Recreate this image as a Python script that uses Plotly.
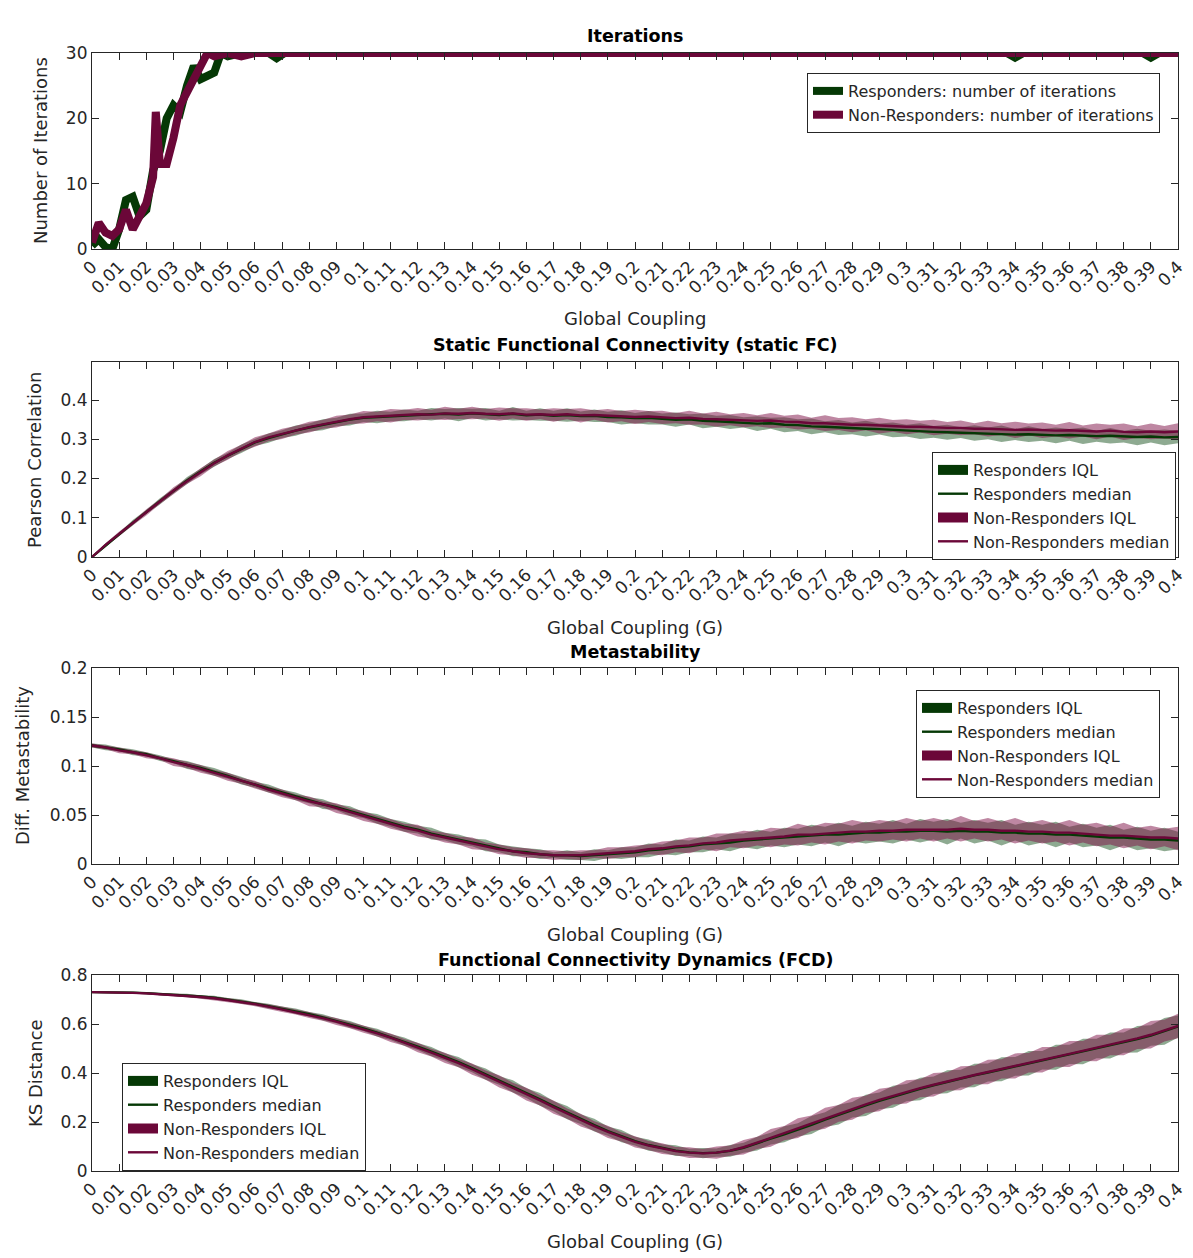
import numpy as np
import plotly.graph_objects as go

# ---------------- DATA ----------------
G = [round(i * 0.005, 3) for i in range(81)]

# Panel 1: number of iterations
iter_g_R = [0, 0.0025, 0.005, 0.0075, 0.01, 0.0125, 0.015, 0.0175, 0.02, 0.0225, 0.025, 0.0275, 0.03, 0.0325,
            0.035, 0.0375, 0.04, 0.0425, 0.045, 0.0475, 0.05, 0.055, 0.06, 0.065, 0.068, 0.071, 0.1, 0.2, 0.3,
            0.337, 0.34, 0.343, 0.387, 0.39, 0.393, 0.4]
iter_R = [0.5, 1.5, 0.3, 0, 3, 7.5, 8, 5, 6, 12, 15, 20, 22, 21, 25, 28, 26, 26.5, 27, 30, 29.5, 30, 30, 30,
          29.2, 30, 30, 30, 30, 30, 29.3, 30, 30, 29.3, 30, 30]
iter_g_NR = [0, 0.0025, 0.005, 0.0075, 0.01, 0.0125, 0.015, 0.0175, 0.02, 0.0225, 0.0235, 0.025, 0.0275, 0.03,
             0.0325, 0.035, 0.0375, 0.04, 0.0425, 0.045, 0.05, 0.055, 0.06, 0.4]
iter_NR = [1, 4, 2.5, 2, 3, 6, 3, 5, 7, 11, 21, 13, 13, 17, 22, 24, 26, 28, 30, 29.5, 30, 29.5, 30, 30]

# Panel 2: static FC (Pearson correlation), medians and IQR half widths
fc_med_R = [0.000, 0.030, 0.058, 0.087, 0.115, 0.142, 0.168, 0.195, 0.218, 0.240, 0.258, 0.276, 0.292, 0.303,
            0.313, 0.322, 0.330, 0.337, 0.344, 0.350, 0.355, 0.357, 0.358, 0.361, 0.362, 0.364, 0.365, 0.363,
            0.366, 0.364, 0.362, 0.365, 0.361, 0.363, 0.360, 0.362, 0.359, 0.360, 0.357, 0.356, 0.354, 0.355,
            0.352, 0.350, 0.351, 0.347, 0.346, 0.344, 0.343, 0.340, 0.341, 0.337, 0.336, 0.333, 0.332, 0.330,
            0.328, 0.327, 0.326, 0.324, 0.322, 0.321, 0.319, 0.318, 0.317, 0.316, 0.315, 0.314, 0.312, 0.313,
            0.311, 0.310, 0.311, 0.309, 0.308, 0.309, 0.307, 0.306, 0.307, 0.305, 0.306]
fc_med_NR = [0.000, 0.031, 0.059, 0.086, 0.114, 0.141, 0.169, 0.193, 0.216, 0.239, 0.259, 0.277, 0.293, 0.305,
             0.314, 0.323, 0.331, 0.338, 0.345, 0.351, 0.356, 0.358, 0.360, 0.362, 0.364, 0.363, 0.366, 0.365,
             0.367, 0.365, 0.364, 0.366, 0.363, 0.364, 0.362, 0.364, 0.361, 0.362, 0.360, 0.359, 0.357, 0.358,
             0.356, 0.354, 0.355, 0.352, 0.351, 0.350, 0.349, 0.347, 0.348, 0.345, 0.344, 0.341, 0.341, 0.339,
             0.337, 0.337, 0.335, 0.334, 0.332, 0.332, 0.330, 0.329, 0.329, 0.327, 0.327, 0.326, 0.324, 0.325,
             0.323, 0.322, 0.323, 0.321, 0.320, 0.322, 0.319, 0.318, 0.320, 0.318, 0.320]
fc_iqr_R = [0.002, 0.005, 0.004, 0.007, 0.005, 0.008, 0.006, 0.009, 0.007, 0.010, 0.008, 0.011, 0.009, 0.012,
            0.010, 0.013, 0.010, 0.014, 0.011, 0.015, 0.011, 0.016, 0.012, 0.015, 0.011, 0.016, 0.012, 0.017,
            0.012, 0.016, 0.011, 0.017, 0.012, 0.016, 0.013, 0.017, 0.012, 0.016, 0.013, 0.018, 0.013, 0.017,
            0.014, 0.018, 0.013, 0.019, 0.014, 0.018, 0.013, 0.019, 0.014, 0.019, 0.015, 0.020, 0.014, 0.019,
            0.015, 0.020, 0.014, 0.019, 0.015, 0.020, 0.015, 0.019, 0.014, 0.020, 0.015, 0.021, 0.014, 0.020,
            0.015, 0.020, 0.015, 0.021, 0.014, 0.020, 0.015, 0.021, 0.015, 0.020, 0.016]
fc_iqr_NR = [0.002, 0.004, 0.006, 0.005, 0.008, 0.006, 0.009, 0.007, 0.010, 0.008, 0.011, 0.009, 0.012, 0.010,
             0.013, 0.011, 0.014, 0.011, 0.015, 0.012, 0.016, 0.012, 0.017, 0.013, 0.016, 0.012, 0.017, 0.013,
             0.016, 0.012, 0.017, 0.013, 0.016, 0.012, 0.017, 0.013, 0.018, 0.012, 0.017, 0.013, 0.018, 0.014,
             0.017, 0.013, 0.018, 0.014, 0.019, 0.014, 0.018, 0.014, 0.019, 0.015, 0.019, 0.014, 0.020, 0.015,
             0.019, 0.014, 0.020, 0.015, 0.019, 0.015, 0.020, 0.015, 0.019, 0.014, 0.020, 0.015, 0.021, 0.015,
             0.020, 0.015, 0.021, 0.014, 0.020, 0.015, 0.021, 0.015, 0.020, 0.016, 0.021]

# Panel 3: metastability difference
meta_med_R = [0.121, 0.119, 0.117, 0.114, 0.112, 0.108, 0.105, 0.101, 0.098, 0.094, 0.090, 0.085, 0.081, 0.077,
              0.073, 0.069, 0.065, 0.061, 0.058, 0.054, 0.050, 0.046, 0.042, 0.038, 0.035, 0.031, 0.028, 0.025,
              0.022, 0.019, 0.016, 0.013, 0.012, 0.010, 0.009, 0.009, 0.008, 0.009, 0.010, 0.011, 0.012, 0.014,
              0.015, 0.017, 0.018, 0.020, 0.021, 0.022, 0.024, 0.025, 0.026, 0.027, 0.028, 0.029, 0.030, 0.030,
              0.031, 0.032, 0.032, 0.033, 0.033, 0.034, 0.034, 0.033, 0.034, 0.033, 0.033, 0.032, 0.032, 0.031,
              0.031, 0.030, 0.030, 0.029, 0.028, 0.027, 0.027, 0.026, 0.025, 0.025, 0.024]
meta_med_NR = [0.121, 0.119, 0.116, 0.114, 0.111, 0.108, 0.104, 0.101, 0.097, 0.093, 0.089, 0.085, 0.081, 0.076,
               0.072, 0.068, 0.064, 0.061, 0.057, 0.053, 0.049, 0.045, 0.041, 0.037, 0.034, 0.030, 0.027, 0.024,
               0.021, 0.018, 0.015, 0.013, 0.011, 0.010, 0.009, 0.009, 0.009, 0.010, 0.011, 0.012, 0.013, 0.015,
               0.016, 0.018, 0.019, 0.021, 0.022, 0.024, 0.025, 0.026, 0.027, 0.028, 0.030, 0.030, 0.031, 0.032,
               0.033, 0.033, 0.034, 0.034, 0.035, 0.035, 0.035, 0.035, 0.036, 0.035, 0.035, 0.034, 0.034, 0.033,
               0.033, 0.032, 0.032, 0.031, 0.030, 0.029, 0.029, 0.028, 0.027, 0.027, 0.026]
meta_iqr_R = [0.002, 0.003, 0.002, 0.003, 0.002, 0.003, 0.002, 0.004, 0.003, 0.004, 0.003, 0.004, 0.003, 0.004,
              0.003, 0.004, 0.003, 0.005, 0.003, 0.005, 0.003, 0.005, 0.004, 0.005, 0.004, 0.006, 0.004, 0.005,
              0.004, 0.006, 0.004, 0.005, 0.004, 0.005, 0.003, 0.005, 0.004, 0.006, 0.004, 0.006, 0.005, 0.007,
              0.005, 0.008, 0.006, 0.008, 0.006, 0.009, 0.007, 0.010, 0.007, 0.010, 0.008, 0.011, 0.008, 0.012,
              0.008, 0.011, 0.009, 0.012, 0.008, 0.012, 0.009, 0.013, 0.008, 0.012, 0.009, 0.013, 0.008, 0.012,
              0.009, 0.013, 0.008, 0.012, 0.009, 0.013, 0.008, 0.012, 0.009, 0.012, 0.009]
meta_iqr_NR = [0.002, 0.002, 0.003, 0.002, 0.003, 0.002, 0.004, 0.003, 0.004, 0.003, 0.004, 0.003, 0.004, 0.003,
               0.004, 0.003, 0.005, 0.003, 0.005, 0.004, 0.005, 0.004, 0.005, 0.004, 0.006, 0.004, 0.005, 0.004,
               0.006, 0.004, 0.005, 0.004, 0.005, 0.004, 0.005, 0.004, 0.005, 0.004, 0.006, 0.005, 0.006, 0.005,
               0.007, 0.006, 0.008, 0.006, 0.009, 0.007, 0.009, 0.007, 0.010, 0.008, 0.011, 0.008, 0.011, 0.009,
               0.012, 0.009, 0.011, 0.009, 0.012, 0.009, 0.012, 0.009, 0.013, 0.009, 0.012, 0.009, 0.013, 0.009,
               0.012, 0.009, 0.013, 0.009, 0.012, 0.009, 0.013, 0.009, 0.012, 0.009, 0.012]

# Panel 4: FCD KS distance
ks_med_R = [0.730, 0.730, 0.729, 0.728, 0.726, 0.723, 0.720, 0.716, 0.712, 0.707, 0.700, 0.692, 0.683, 0.673,
            0.663, 0.652, 0.640, 0.627, 0.613, 0.598, 0.582, 0.565, 0.547, 0.528, 0.508, 0.487, 0.466, 0.444,
            0.420, 0.395, 0.370, 0.345, 0.318, 0.292, 0.265, 0.238, 0.212, 0.187, 0.163, 0.142, 0.122, 0.106,
            0.093, 0.083, 0.076, 0.073, 0.075, 0.082, 0.095, 0.112, 0.132, 0.150, 0.168, 0.188, 0.210, 0.230,
            0.250, 0.268, 0.286, 0.303, 0.320, 0.335, 0.350, 0.364, 0.377, 0.390, 0.402, 0.415, 0.427, 0.440,
            0.452, 0.464, 0.476, 0.488, 0.500, 0.512, 0.524, 0.538, 0.553, 0.570, 0.590]
ks_med_NR = [0.730, 0.730, 0.729, 0.727, 0.725, 0.722, 0.719, 0.715, 0.710, 0.705, 0.698, 0.690, 0.681, 0.671,
             0.660, 0.649, 0.637, 0.624, 0.610, 0.595, 0.579, 0.562, 0.544, 0.525, 0.504, 0.483, 0.462, 0.440,
             0.416, 0.391, 0.366, 0.340, 0.314, 0.288, 0.261, 0.234, 0.208, 0.183, 0.160, 0.139, 0.119, 0.104,
             0.091, 0.081, 0.075, 0.072, 0.075, 0.083, 0.097, 0.115, 0.135, 0.155, 0.175, 0.195, 0.215, 0.235,
             0.254, 0.272, 0.290, 0.307, 0.323, 0.338, 0.352, 0.366, 0.379, 0.392, 0.404, 0.417, 0.429, 0.442,
             0.454, 0.466, 0.478, 0.490, 0.502, 0.514, 0.527, 0.541, 0.556, 0.573, 0.592]
ks_iqr_R = [0.003, 0.004, 0.003, 0.005, 0.004, 0.006, 0.005, 0.007, 0.005, 0.008, 0.006, 0.009, 0.007, 0.010,
            0.008, 0.011, 0.009, 0.013, 0.010, 0.014, 0.011, 0.016, 0.012, 0.017, 0.014, 0.019, 0.015, 0.021,
            0.017, 0.023, 0.018, 0.025, 0.020, 0.026, 0.021, 0.027, 0.020, 0.026, 0.019, 0.025, 0.018, 0.023,
            0.016, 0.022, 0.015, 0.021, 0.017, 0.024, 0.020, 0.028, 0.024, 0.033, 0.027, 0.037, 0.030, 0.040,
            0.032, 0.043, 0.034, 0.045, 0.035, 0.046, 0.036, 0.047, 0.036, 0.048, 0.037, 0.049, 0.038, 0.050,
            0.038, 0.051, 0.039, 0.052, 0.040, 0.053, 0.041, 0.054, 0.042, 0.055, 0.045]
ks_iqr_NR = [0.003, 0.003, 0.004, 0.004, 0.005, 0.005, 0.006, 0.006, 0.007, 0.007, 0.008, 0.008, 0.009, 0.009,
             0.011, 0.010, 0.012, 0.011, 0.014, 0.012, 0.015, 0.013, 0.017, 0.014, 0.019, 0.016, 0.021, 0.017,
             0.023, 0.019, 0.025, 0.020, 0.026, 0.021, 0.027, 0.021, 0.026, 0.020, 0.025, 0.019, 0.023, 0.018,
             0.022, 0.017, 0.022, 0.018, 0.025, 0.021, 0.030, 0.025, 0.036, 0.029, 0.040, 0.032, 0.043, 0.034,
             0.045, 0.035, 0.046, 0.036, 0.047, 0.037, 0.048, 0.037, 0.049, 0.038, 0.050, 0.039, 0.051, 0.040,
             0.052, 0.040, 0.053, 0.041, 0.054, 0.042, 0.055, 0.043, 0.056, 0.044, 0.050]

x_tick_vals = [round(i * 0.01, 2) for i in range(41)]
x_tick_text = [("%g" % v) for v in x_tick_vals]

# ---------------- STYLE ----------------
GREEN = "#053805"
MAROON = "#6b0738"
GREEN_FILL = "rgba(30,85,35,0.5)"
MAROON_FILL = "rgba(125,15,70,0.5)"
AX = "#262626"
FONT = "DejaVu Sans"
OFF = 8  # page body margin
W, H = 1193 - OFF, 1258 - OFF

def px_x(p):
    return (p - OFF) / W

def px_y(p):
    return 1 - (p - OFF) / H

panels = [(53, 249), (362, 557), (668, 864), (975, 1171)]
x0p, x1p = 92, 1178

fig = go.Figure()

def axn(i):
    return ("x" + ("" if i == 1 else str(i)), "y" + ("" if i == 1 else str(i)))

def band(xs, med, half, color_fill, axis_idx):
    upper = [m + h for m, h in zip(med, half)]
    lower = [m - h for m, h in zip(med, half)]
    xa, ya = axn(axis_idx)
    fig.add_trace(go.Scatter(
        x=list(xs) + list(xs)[::-1], y=upper + lower[::-1],
        fill="toself", fillcolor=color_fill, line=dict(width=0),
        mode="lines", showlegend=False, xaxis=xa, yaxis=ya, hoverinfo="skip"))

def legend_box(color, name, axis_idx, legend):
    xa, ya = axn(axis_idx)
    fig.add_trace(go.Scatter(
        x=[None], y=[None], mode="lines", line=dict(color=color, width=16),
        name=name, legend=legend, xaxis=xa, yaxis=ya))

def median(xs, med, color, name, axis_idx, legend):
    xa, ya = axn(axis_idx)
    fig.add_trace(go.Scatter(
        x=xs, y=med, mode="lines", line=dict(color=color, width=2.4),
        name=name, legend=legend, xaxis=xa, yaxis=ya))

# Panel 1
fig.add_trace(go.Scatter(x=iter_g_R, y=iter_R, mode="lines", line=dict(color=GREEN, width=8),
                         name="Responders: number of iterations", legend="legend", xaxis="x", yaxis="y"))
fig.add_trace(go.Scatter(x=iter_g_NR, y=iter_NR, mode="lines", line=dict(color=MAROON, width=8),
                         name="Non-Responders: number of iterations", legend="legend", xaxis="x", yaxis="y"))

datasets = {
    2: (fc_med_R, fc_med_NR, fc_iqr_R, fc_iqr_NR, "legend2"),
    3: (meta_med_R, meta_med_NR, meta_iqr_R, meta_iqr_NR, "legend3"),
    4: (ks_med_R, ks_med_NR, ks_iqr_R, ks_iqr_NR, "legend4"),
}
for idx, (mr, mn, ir, inr, lg) in datasets.items():
    band(G, mr, ir, GREEN_FILL, idx)
    band(G, mn, inr, MAROON_FILL, idx)
    legend_box(GREEN, "Responders IQL", idx, lg)
    median(G, mr, GREEN, "Responders median", idx, lg)
    legend_box(MAROON, "Non-Responders IQL", idx, lg)
    median(G, mn, MAROON, "Non-Responders median", idx, lg)

yconf = [
    dict(range=[0, 30], tickvals=[0, 10, 20, 30], ticktext=["0", "10", "20", "30"]),
    dict(range=[0, 0.497], tickvals=[0, 0.1, 0.2, 0.3, 0.4], ticktext=["0", "0.1", "0.2", "0.3", "0.4"]),
    dict(range=[0, 0.2], tickvals=[0, 0.05, 0.1, 0.15, 0.2], ticktext=["0", "0.05", "0.1", "0.15", "0.2"]),
    dict(range=[0, 0.8], tickvals=[0, 0.2, 0.4, 0.6, 0.8], ticktext=["0", "0.2", "0.4", "0.6", "0.8"]),
]

layout = dict(
    width=W, height=H, margin=dict(l=0, r=0, t=0, b=0, autoexpand=False),
    paper_bgcolor="white", plot_bgcolor="white",
    font=dict(family=FONT, color=AX, size=15),
    showlegend=True,
)
for i, (top, bot) in enumerate(panels, start=1):
    sfx = "" if i == 1 else str(i)
    layout["xaxis" + sfx] = dict(
        domain=[px_x(x0p), px_x(x1p)], anchor="y" + sfx, range=[0, 0.4], automargin=False,
        tickvals=x_tick_vals, ticktext=x_tick_text, tickangle=-45, ticklabeloverflow="allow",
        ticks="inside", ticklen=7, tickcolor=AX, tickwidth=1,
        showline=True, linecolor=AX, linewidth=1.2, mirror="ticks",
        showgrid=False, zeroline=False, tickfont=dict(size=17, color=AX, family=FONT))
    yc = yconf[i - 1]
    layout["yaxis" + sfx] = dict(
        domain=[px_y(bot), px_y(top)], anchor="x" + sfx, range=yc["range"], automargin=False,
        tickvals=yc["tickvals"], ticktext=yc["ticktext"], ticklabeloverflow="allow",
        ticks="inside", ticklen=7, tickcolor=AX, tickwidth=1,
        showline=True, linecolor=AX, linewidth=1.2, mirror="ticks",
        showgrid=False, zeroline=False, tickfont=dict(size=17, color=AX, family=FONT))

leg_common = dict(bgcolor="white", bordercolor=AX, borderwidth=1,
                  font=dict(size=16, family=FONT, color=AX), tracegroupgap=0, itemwidth=30)
layout["legend"] = dict(x=px_x(1160), y=px_y(73), xanchor="right", yanchor="top", **leg_common)
layout["legend2"] = dict(x=px_x(1176), y=px_y(452), xanchor="right", yanchor="top", **leg_common)
layout["legend3"] = dict(x=px_x(1160), y=px_y(690), xanchor="right", yanchor="top", **leg_common)
layout["legend4"] = dict(x=px_x(122), y=px_y(1063), xanchor="left", yanchor="top", **leg_common)

titles = [("Iterations", 36), ("Static Functional Connectivity (static FC)", 345),
          ("Metastability", 652), ("Functional Connectivity Dynamics (FCD)", 960)]
xtitles = [("Global Coupling", 318), ("Global Coupling (G)", 627), ("Global Coupling (G)", 934),
           ("Global Coupling (G)", 1241)]
ytitles = [("Number of Iterations", 40, 151), ("Pearson Correlation", 35, 460),
           ("Diff. Metastability", 22, 766), ("KS Distance", 35, 1073)]
ann = []
for t, yp in titles:
    ann.append(dict(text="<b>" + t + "</b>", x=px_x(635), y=px_y(yp), xref="paper", yref="paper",
                    xanchor="center", yanchor="middle",
                    showarrow=False, font=dict(size=17.5, color="black", family=FONT)))
for t, yp in xtitles:
    ann.append(dict(text=t, x=px_x(635), y=px_y(yp), xref="paper", yref="paper",
                    xanchor="center", yanchor="middle",
                    showarrow=False, font=dict(size=18, color=AX, family=FONT)))
for t, xp, yp in ytitles:
    ann.append(dict(text=t, x=px_x(xp), y=px_y(yp), xref="paper", yref="paper", textangle=-90,
                    xanchor="center", yanchor="middle",
                    showarrow=False, font=dict(size=18, color=AX, family=FONT)))
layout["annotations"] = ann

fig.update_layout(**layout)
fig.write_html("out.html")
